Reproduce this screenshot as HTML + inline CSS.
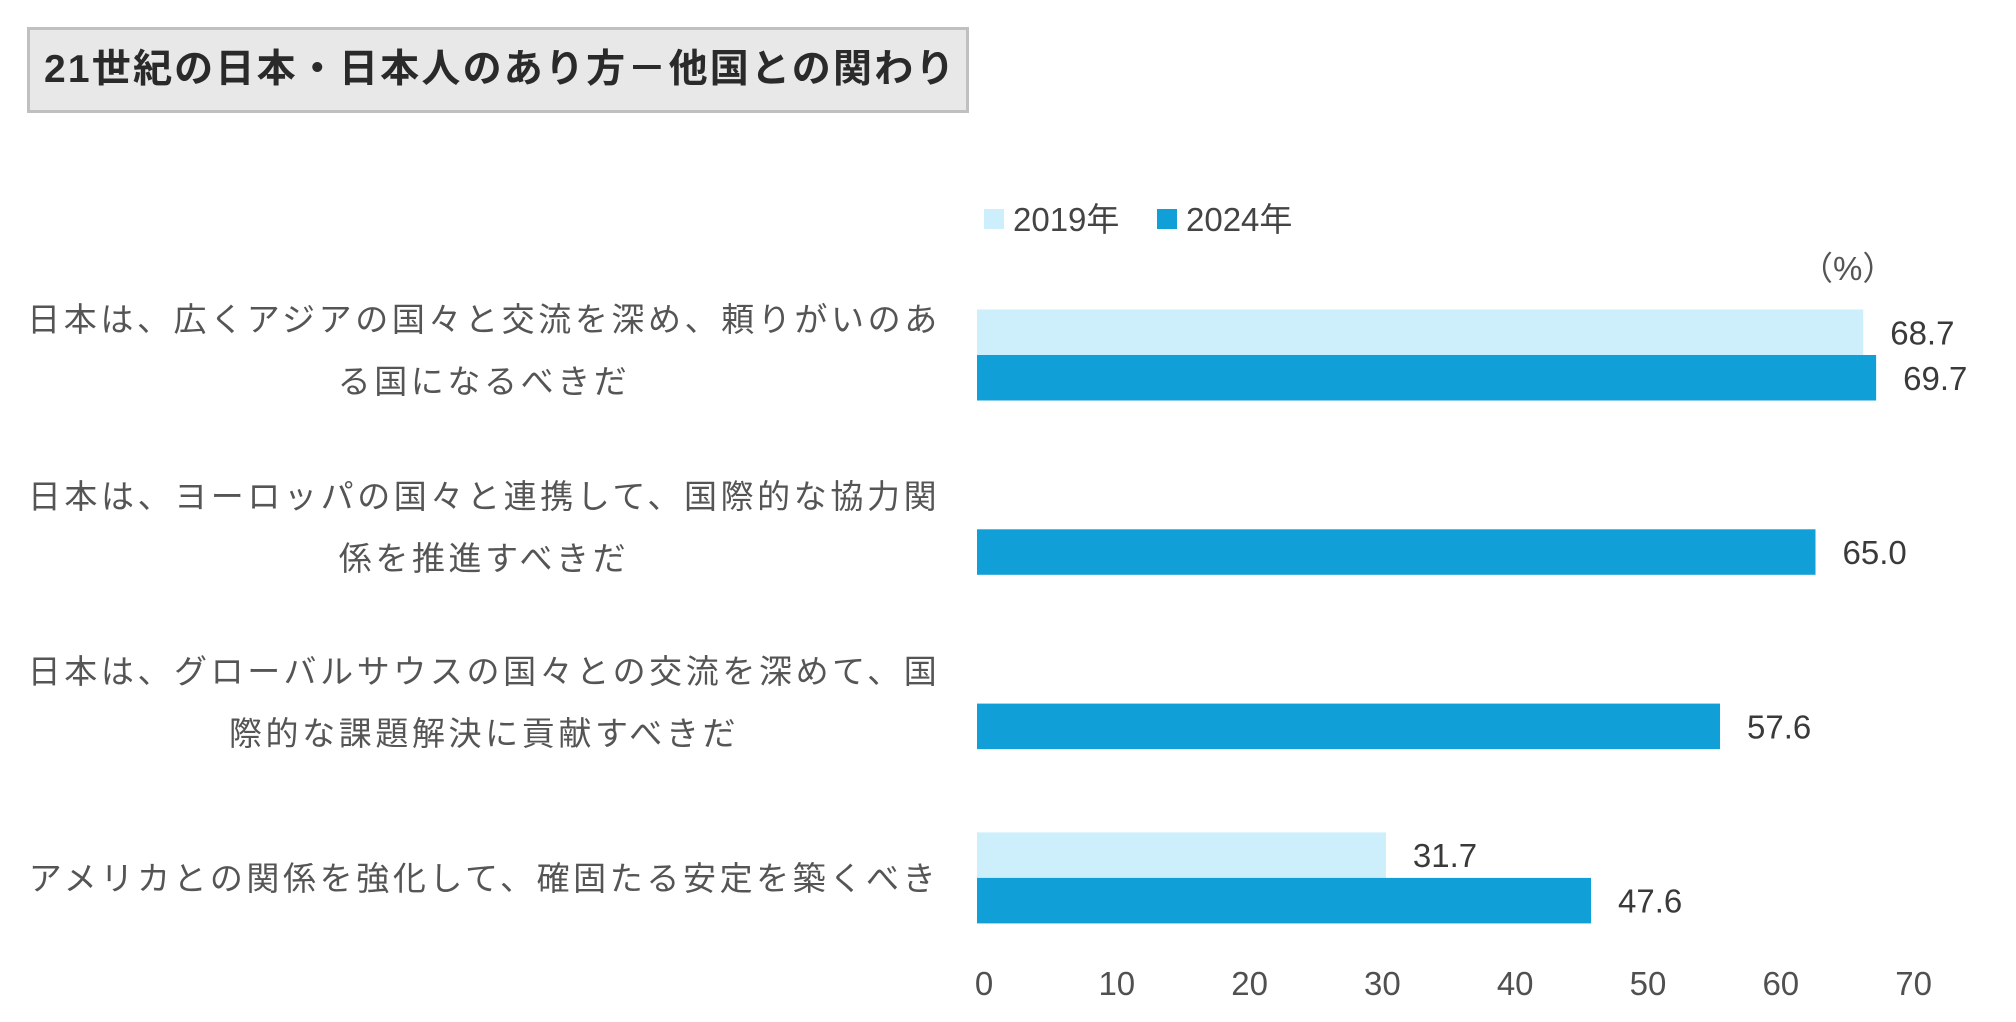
<!DOCTYPE html>
<html lang="ja"><head><meta charset="utf-8">
<style>
body{margin:0;width:2016px;height:1022px;background:#fff;position:relative;overflow:hidden;font-family:"Liberation Sans","Noto Sans CJK JP",sans-serif;}
.title{position:absolute;left:27px;top:27px;width:936px;height:80px;background:#e8e8e8;border:3px solid #c0c0c0;box-sizing:content-box;}
.title span{position:absolute;left:14px;top:0;line-height:80px;font-size:39px;font-weight:bold;color:#2a2a2a;letter-spacing:2.2px;white-space:nowrap;}
.cat{position:absolute;left:14px;width:940px;text-align:center;font-size:33px;color:#555;letter-spacing:3.6px;line-height:62px;white-space:nowrap;}
</style></head>
<body>
<div class="title"><span>21世紀の日本・日本人のあり方－他国との関わり</span></div>
<div class="cat" style="top:289px">日本は、広くアジアの国々と交流を深め、頼りがいのあ<br>る国になるべきだ</div>
<div class="cat" style="top:466px">日本は、ヨーロッパの国々と連携して、国際的な協力関<br>係を推進すべきだ</div>
<div class="cat" style="top:641px">日本は、グローバルサウスの国々との交流を深めて、国<br>際的な課題解決に貢献すべきだ</div>
<div class="cat" style="top:848px">アメリカとの関係を強化して、確固たる安定を築くべき</div>
<svg id="chart" width="2016" height="1022" style="position:absolute;left:0;top:0"></svg>
<script>
const categories=["アジア","ヨーロッパ","グローバルサウス","アメリカ"];
const values2019=[68.7,null,null,31.7];
const values2024=[69.7,65.0,57.6,47.6];
const ticks=[0,10,20,30,40,50,60,70];
const seriesNames=["2019年","2024年"];
const NS="http://www.w3.org/2000/svg";
const svg=document.getElementById('chart');
const x0=977, unit=12.9;
function x(v){return x0+v*unit;}
function tickX(v){return 984+v*13.28;}
function yc(i){return 355+i*174.3;}
const bh=45.5;
function mk(tag,attrs){const e=document.createElementNS(NS,tag);for(const k in attrs)e.setAttribute(k,attrs[k]);svg.appendChild(e);return e;}
const colors=["#cdeefb","#109fd6"];
[values2019,values2024].forEach((arr,s)=>{
  arr.forEach((v,i)=>{
    if(v==null)return;
    const y=s===0?yc(i)-bh:yc(i);
    const r=mk('rect',{x:x0,y:y,width:x(v)-x0,height:bh,fill:colors[s]});
    
    
    const t=mk('text',{x:x(v)+27,y:y+bh/2+12,'font-size':33,fill:'#3a3a3a'});
    t.textContent=v.toFixed(1);
    
    
  });
});
ticks.forEach(v=>{
  const t=mk('text',{x:tickX(v),y:995,'font-size':33,fill:'#505050','text-anchor':'middle'});
  t.textContent=v;
  
  
});
const lx=[984,1157];
seriesNames.forEach((n,s)=>{
  const r=mk('rect',{x:lx[s],y:209,width:20,height:20,fill:colors[s]});
  
  
  const t=mk('text',{x:lx[s]+29,y:231,'font-size':33,fill:'#444'});
  t.textContent=n;
  
  
});
const u=mk('text',{x:1800,y:280,'font-size':33,fill:'#555'});
u.textContent='（%）';


</script>
</body></html>
